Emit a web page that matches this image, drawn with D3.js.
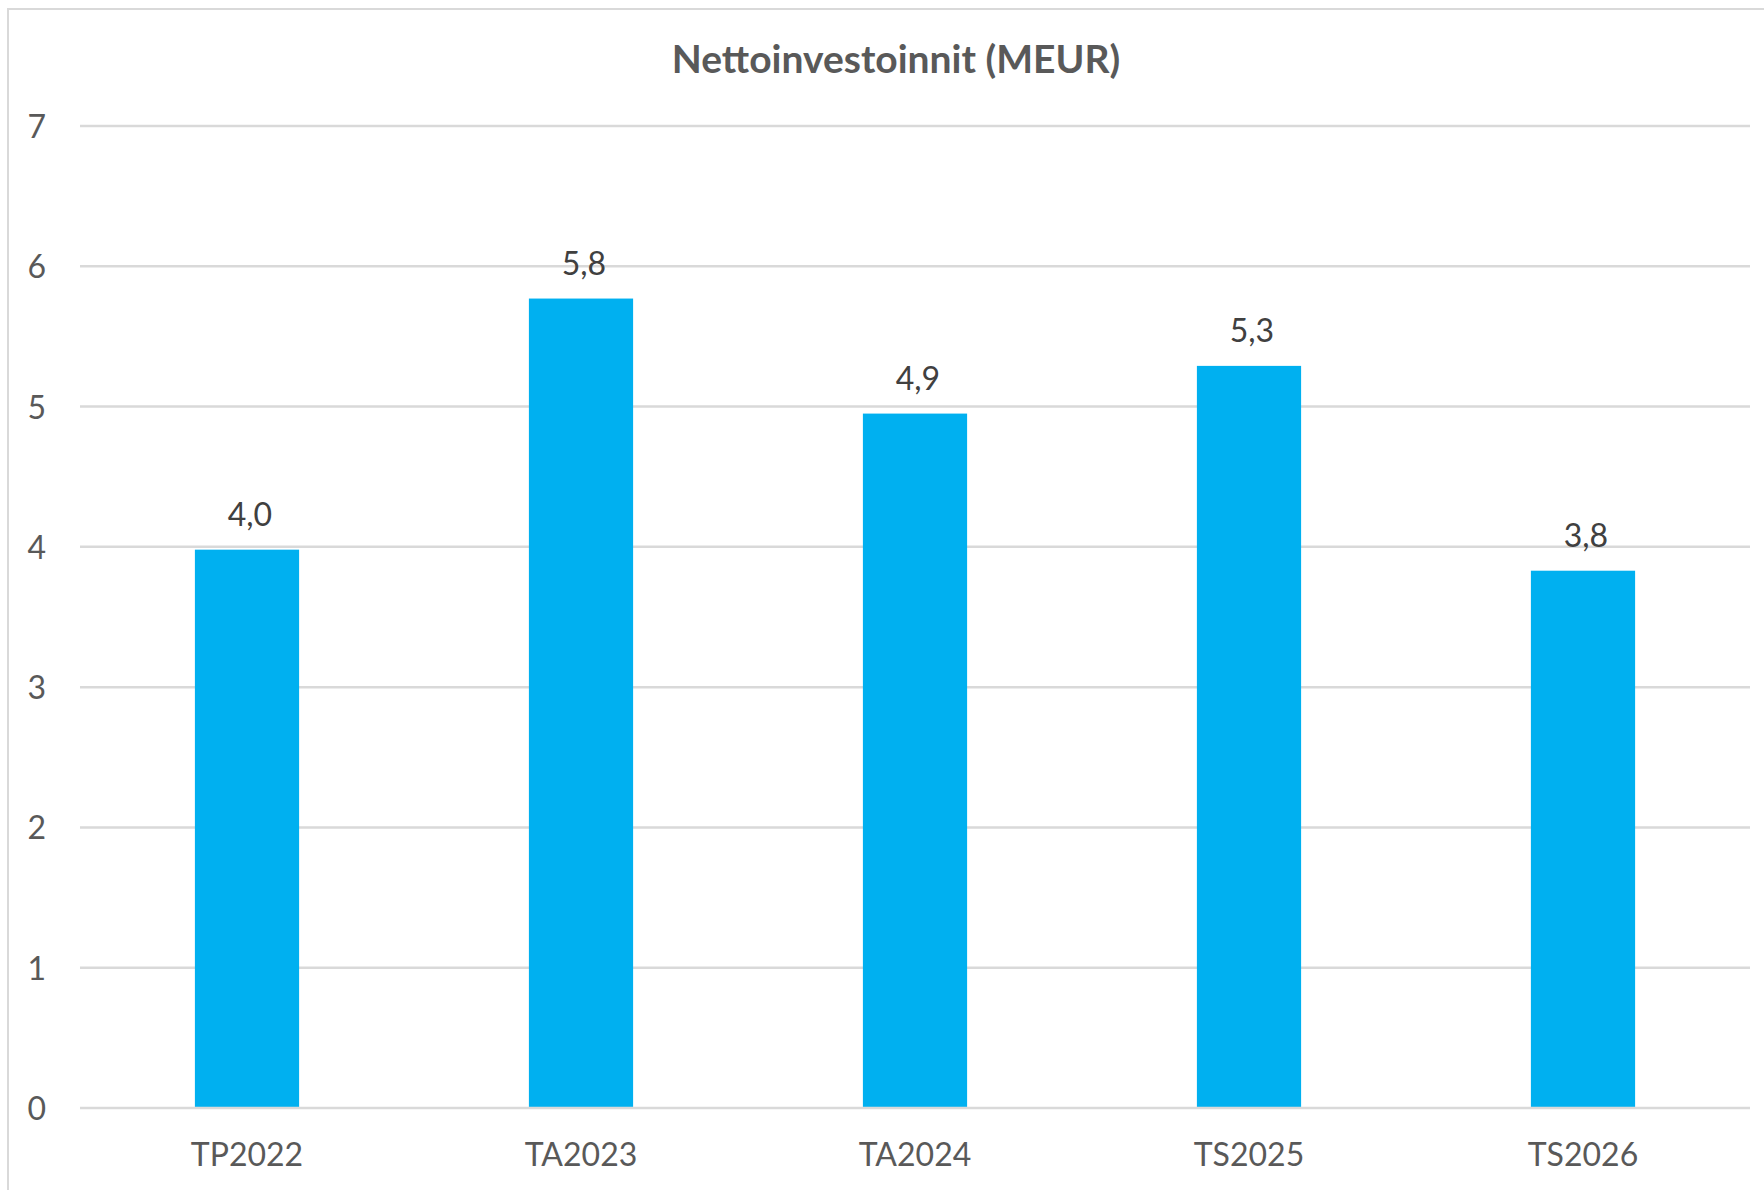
<!DOCTYPE html>
<html>
<head>
<meta charset="utf-8">
<script src="https://cdn.jsdelivr.net/npm/d3@7"></script>
<style>
  html, body { margin: 0; padding: 0; background: #ffffff; }
  svg { display: block; }
</style>
</head>
<body>
<script>
const categories = ["TP2022", "TA2023", "TA2024", "TS2025", "TS2026"];
const values = [3.98, 5.77, 4.95, 5.29, 3.83];
const valueLabels = ["4,0", "5,8", "4,9", "5,3", "3,8"];
const yTicks = [0, 1, 2, 3, 4, 5, 6, 7];
const title = "Nettoinvestoinnit (MEUR)";

const W = 1764, H = 1190;
const font = "Lato, 'Open Sans', sans-serif";

const svg = d3.select("body").append("svg").attr("width", W).attr("height", H);

svg.append("rect").attr("x", 8).attr("y", 9).attr("width", W + 10).attr("height", H + 10)
  .attr("fill", "#ffffff").attr("stroke", "#d9d9d9").attr("stroke-width", 2);

const x = d3.scaleBand().domain(categories).range([80, 1750]).paddingInner(0.688).paddingOuter(0.344);
const y = d3.scaleLinear().domain([0, 7]).range([1108, 126]);

// gridlines
svg.append("g").selectAll("line").data(yTicks.filter(d => d > 0)).join("line")
  .attr("x1", 80).attr("x2", 1750)
  .attr("y1", d => y(d)).attr("y2", d => y(d))
  .attr("stroke", "#d9d9d9").attr("stroke-width", 2.5);

// y axis labels
const yAxis = d3.axisLeft(y).tickValues(yTicks).tickSize(0).tickPadding(0).tickFormat(d3.format("d"));
const gy = svg.append("g").attr("transform", "translate(46,0)").call(yAxis);
gy.select(".domain").remove();
gy.selectAll("text").attr("font-family", font).attr("font-size", 32).attr("fill", "#595959")
  .attr("dy", "0.36em");

// bars
svg.append("g").selectAll("rect").data(values).join("rect")
  .attr("x", (d, i) => x(categories[i]))
  .attr("width", x.bandwidth())
  .attr("y", d => y(d))
  .attr("height", d => y(0) - y(d))
  .attr("fill", "#00b0f0");

// x axis line
svg.append("line").attr("x1", 80).attr("x2", 1750).attr("y1", y(0)).attr("y2", y(0))
  .attr("stroke", "#d9d9d9").attr("stroke-width", 2.5);

// x axis labels
const xAxis = d3.axisBottom(x).tickSize(0).tickPadding(0);
const gx = svg.append("g").attr("transform", `translate(0,${y(0)})`).call(xAxis);
gx.select(".domain").remove();
gx.selectAll("text").attr("font-family", font).attr("font-size", 32).attr("fill", "#595959")
  .attr("dy", null).attr("y", 58);

// data labels
svg.append("g").selectAll("text").data(values).join("text")
  .attr("x", (d, i) => x(categories[i]) + x.bandwidth() / 2 + 3)
  .attr("y", d => y(d) - 24)
  .attr("text-anchor", "middle")
  .attr("font-family", font).attr("font-size", 32).attr("fill", "#404040")
  .text((d, i) => valueLabels[i]);

// title
svg.append("text").attr("x", 896).attr("y", 73).attr("text-anchor", "middle")
  .attr("font-family", font).attr("font-weight", "bold").attr("font-size", 39).attr("fill", "#595959")
  .text(title);
</script>
</body>
</html>
